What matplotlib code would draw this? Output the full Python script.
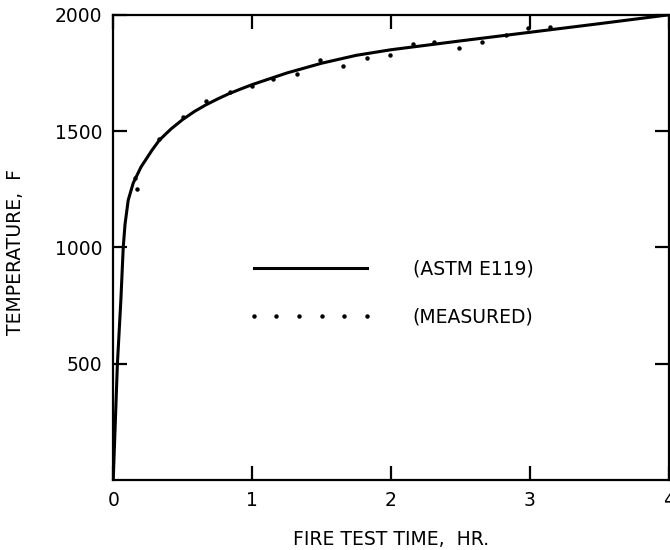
import matplotlib
matplotlib.use("Agg")
from matplotlib import pyplot as plt

# ASTM E119 standard time-temperature curve (hr, F)
astm_time = [0, 0.03, 0.055, 0.072, 0.085, 0.108, 0.144, 0.2, 0.28, 0.333, 0.417,
             0.5, 0.583, 0.667, 0.75, 0.833, 0.917, 1.0, 1.25, 1.5, 1.75, 2.0,
             2.5, 3.0, 3.5, 4.0]
astm_temp = [0, 500, 774, 1000, 1100, 1204, 1277, 1346, 1419, 1462, 1510,
             1550, 1584, 1613, 1638, 1661, 1681, 1700, 1750, 1792, 1826, 1850,
             1888, 1925, 1962, 2000]

# measured furnace temperatures (hr, F)
meas_time = [0.156, 0.168, 0.331, 0.504, 0.671, 0.840, 1.002, 1.153, 1.326, 1.489,
             1.657, 1.825, 1.993, 2.156, 2.312, 2.491, 2.653, 2.827, 2.988, 3.144]
meas_temp = [1298, 1250, 1465, 1560, 1630, 1668, 1695, 1723, 1746, 1806,
             1781, 1814, 1827, 1875, 1885, 1859, 1883, 1914, 1943, 1947]

x_ticks = [0, 1, 2, 3, 4]
x_labels = ["0", "1", "2", "3", "4"]
y_ticks = [500, 1000, 1500, 2000]
y_labels = ["500", "1000", "1500", "2000"]

fig = plt.figure(figsize=(6.7, 5.5), dpi=100)
ax = fig.add_axes([0.169, 0.127, 0.829, 0.846])

ax.plot(astm_time, astm_temp, color="black", linewidth=2.2, label="(ASTM E119)")
ax.plot(meas_time, meas_temp, linestyle="none", marker="o", markersize=2.2,
        color="black", label="(MEASURED)")

ax.set_xlim(0, 4)
ax.set_ylim(0, 2000)
ax.set_xticks(x_ticks)
ax.set_xticklabels(x_labels)
ax.set_yticks(y_ticks)
ax.set_yticklabels(y_labels)
ax.tick_params(direction="in", length=10, width=1.6, top=True, right=True,
               labelsize=13.5, pad=8)
for s in ax.spines.values():
    s.set_linewidth(1.6)

ax.set_xlabel("FIRE TEST TIME,  HR.", fontsize=13.5, labelpad=14)
ax.set_ylabel("TEMPERATURE,  F", fontsize=13.5)
ax.yaxis.set_label_coords(-0.158, 0.49)

ax.legend(loc="center left", bbox_to_anchor=(0.243, 0.402), frameon=False,
          fontsize=13.5, handlelength=6.64, handletextpad=2.14, labelspacing=1.55,
          numpoints=6, borderpad=0, borderaxespad=0)

fig.savefig("out.png", dpi=100)
